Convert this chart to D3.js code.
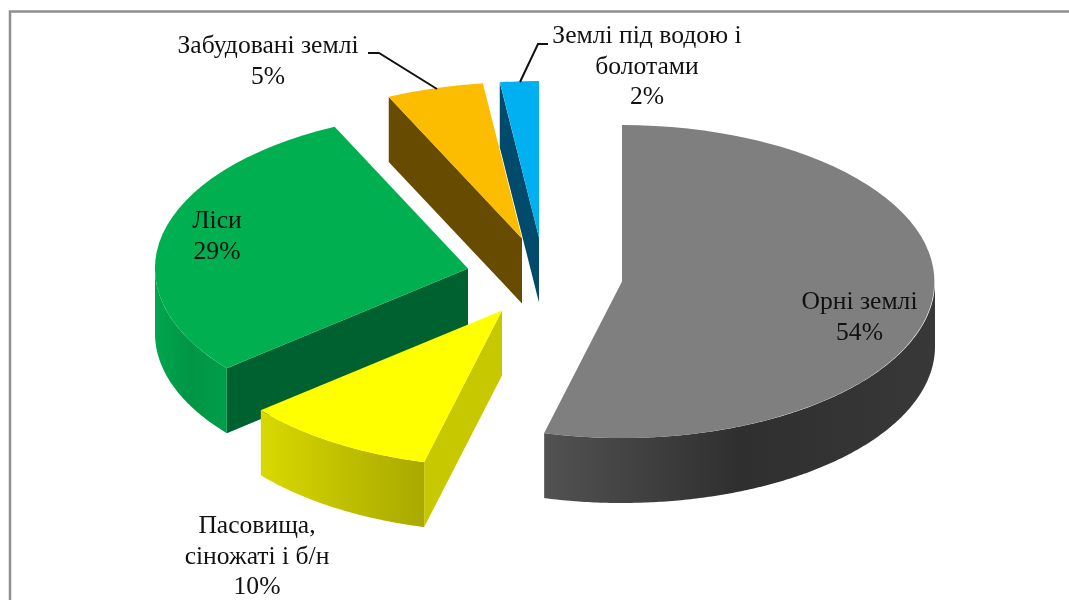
<!DOCTYPE html>
<html>
<head>
<meta charset="utf-8">
<script src="https://cdn.jsdelivr.net/npm/d3@7"></script>
<style>
  html, body { margin: 0; padding: 0; background: #fff; overflow: hidden; }
  svg { display: block; filter: blur(0.5px); }
  text { font-family: "Liberation Serif", serif; font-size: 25.6px; fill: #111; text-anchor: middle; }
</style>
</head>
<body>
<div id="vis"></div>
<script>
const categories = ["Орні землі", "Пасовища,|сіножаті і б/н", "Ліси", "Забудовані землі", "Землі під водою і|болотами"];
const shares = [54, 10, 29, 5, 2];

const FRAME_WIDTH = 1069;
const FRAME_HEIGHT = 600;

// pie geometry, the pie is a flattened circle with a wall under it
const CENTER = {x: 622, y: 281.5};
const RADIUS_X = 313;
const RADIUS_Y = 156.5;
const DEPTH = 65;

// how far every slice is pulled out of the centre, same order as categories
const EXPLODE = [[0, 0], [-120, 29], [-154, -13], [-100, -43], [-83, -44]];

const TOP_COLORS = ["#7f7f7f", "#ffff00", "#00b050", "#fcbd00", "#00b0f0"];
const FACE_COLORS = ["#404040", "#c8c800", "#006130", "#664b00", "#004a6b"];
const WALL_STOPS = [["#525252", "#2f2f2f", "#383838"], ["#d9d900", "#c0c000", "#a9a900"], ["#00a64e", "#009545", "#009e4a"], ["#806000", "#806000", "#806000"], ["#00587a", "#00587a", "#00587a"]];

const LABEL_POS = [[859.5, 309], [257, 533], [217, 228], [268, 53], [647, 43]];
const LEADERS = [
  {slice: 3, pts: [[368, 53], [379, 53], [437, 89]]},
  {slice: 4, pts: [[548, 44], [538, 44], [520, 82]]}
];

const FRAME = d3.select("#vis")
  .append("svg")
    .attr("width", FRAME_WIDTH)
    .attr("height", FRAME_HEIGHT);

// frame of the chart area, open on the right and at the bottom
FRAME.append("path")
  .attr("d", d3.line()([[10, FRAME_HEIGHT + 5], [10, 11.5], [FRAME_WIDTH + 5, 11.5]]))
  .attr("fill", "none")
  .attr("stroke", "#8f8f8f")
  .attr("stroke-width", 2.5);

const X_SCALE = d3.scaleLinear().domain([-1, 1]).range([-RADIUS_X, RADIUS_X]);
const Y_SCALE = d3.scaleLinear().domain([-1, 1]).range([-RADIUS_Y, RADIUS_Y]);

const slices = d3.pie().sort(null).value((d) => d)(shares);
const arcTop = d3.arc().innerRadius(0).outerRadius(1);

const rimX = (a) => X_SCALE(Math.sin(a));
const rimY = (a) => Y_SCALE(-Math.cos(a));

const wallArea = d3.area()
  .x((a) => rimX(a))
  .y0((a) => rimY(a))
  .y1((a) => rimY(a) + DEPTH);

const defs = FRAME.append("defs");

// back slices first so the front ones cover them
const order = [4, 3, 2, 1, 0];

order.forEach((i) => {
  const s = slices[i];
  const g = FRAME.append("g")
    .attr("transform", "translate(" + (CENTER.x + EXPLODE[i][0]) + "," + (CENTER.y + EXPLODE[i][1]) + ")");

  // the cut side at the start angle faces us, the first slice starts at the back
  if (i !== 0) {
    const fx = rimX(s.startAngle);
    const fy = rimY(s.startAngle);
    g.append("path")
      .attr("d", d3.line()([[0, 0], [fx, fy], [fx, fy + DEPTH], [0, DEPTH]]) + "Z")
      .attr("fill", FACE_COLORS[i]);
  }

  // outer wall, only the part of the rim in the front half
  const from = Math.max(s.startAngle, Math.PI / 2);
  const to = Math.min(s.endAngle, 3 * Math.PI / 2);
  if (to > from) {
    const angles = d3.range(from, to, 0.01).concat([to]);
    const xs = d3.extent(angles, rimX);
    const grad = defs.append("linearGradient")
      .attr("id", "wall" + i)
      .attr("gradientUnits", "userSpaceOnUse")
      .attr("x1", xs[0]).attr("x2", xs[1])
      .attr("y1", 0).attr("y2", 0);
    WALL_STOPS[i].forEach((c, k) => {
      grad.append("stop").attr("offset", k / 2).attr("stop-color", c);
    });
    g.append("path")
      .attr("d", wallArea(angles))
      .attr("fill", "url(#wall" + i + ")");
  }

  // top surface
  g.append("path")
    .attr("transform", "scale(" + X_SCALE(1) + "," + Y_SCALE(1) + ")")
    .attr("d", arcTop(s))
    .attr("fill", TOP_COLORS[i]);
});

LEADERS.forEach((l) => {
  FRAME.append("path")
    .attr("d", d3.line()(l.pts))
    .attr("fill", "none")
    .attr("stroke", "#111")
    .attr("stroke-width", 2);
});

categories.forEach((c, i) => {
  const lines = c.split("|").concat([shares[i] + "%"]);
  const label = FRAME.append("text")
    .attr("x", LABEL_POS[i][0])
    .attr("y", LABEL_POS[i][1]);
  lines.forEach((t, k) => {
    label.append("tspan")
      .attr("x", LABEL_POS[i][0])
      .attr("dy", k === 0 ? 0 : 30.7)
      .text(t);
  });
});
</script>
</body>
</html>
